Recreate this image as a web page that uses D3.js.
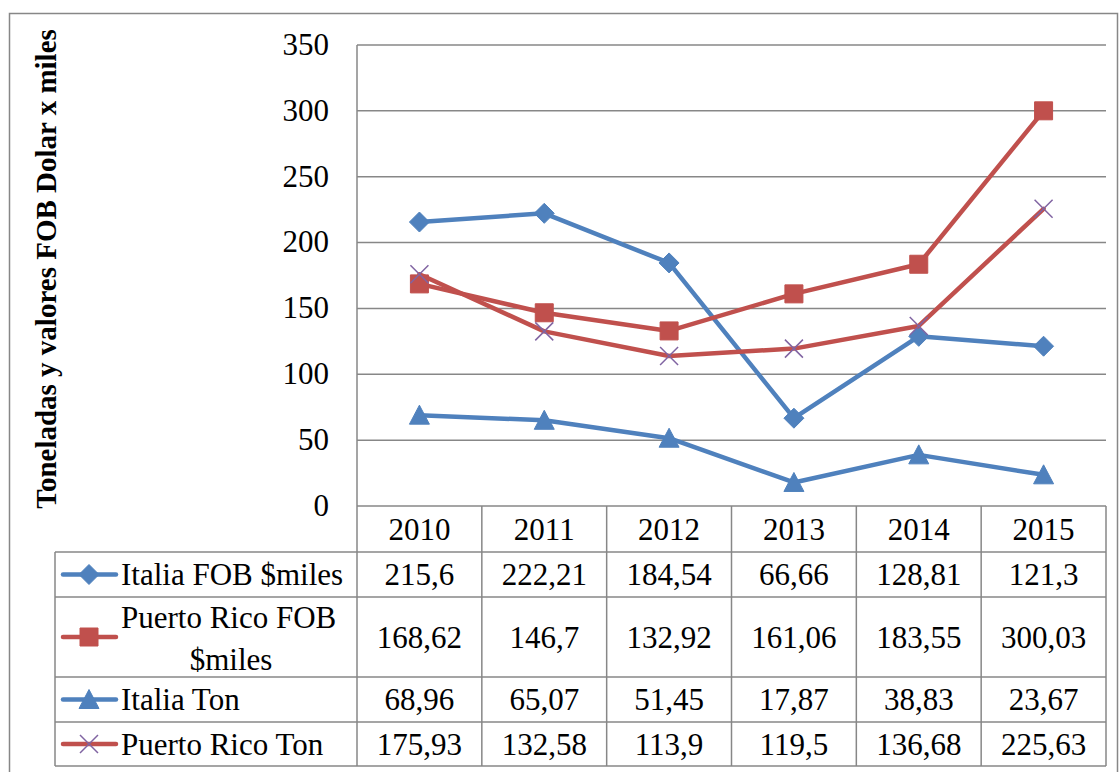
<!DOCTYPE html>
<html>
<head>
    <meta charset="utf-8" />
    <script src="https://d3js.org/d3.v7.min.js"></script>
</head>
<body style="margin:0">
<script>
    // datos
    var years = ["2010", "2011", "2012", "2013", "2014", "2015"];
    var italiaFob = [215.6, 222.21, 184.54, 66.66, 128.81, 121.3];
    var prFob = [168.62, 146.7, 132.92, 161.06, 183.55, 300.03];
    var italiaTon = [68.96, 65.07, 51.45, 17.87, 38.83, 23.67];
    var prTon = [175.93, 132.58, 113.9, 119.5, 136.68, 225.63];
    var labelsFob = ["215,6", "222,21", "184,54", "66,66", "128,81", "121,3"];
    var labelsPrFob = ["168,62", "146,7", "132,92", "161,06", "183,55", "300,03"];
    var labelsTon = ["68,96", "65,07", "51,45", "17,87", "38,83", "23,67"];
    var labelsPrTon = ["175,93", "132,58", "113,9", "119,5", "136,68", "225,63"];
    var yTicks = [0, 50, 100, 150, 200, 250, 300, 350];

    var series = [
        { name: ["Italia FOB $miles"], values: italiaFob, labels: labelsFob, color: "#4f81bd", marker: "diamond" },
        { name: ["Puerto Rico FOB", "$miles"], values: prFob, labels: labelsPrFob, color: "#c0504d", marker: "square" },
        { name: ["Italia Ton"], values: italiaTon, labels: labelsTon, color: "#4f81bd", marker: "triangle" },
        { name: ["Puerto Rico Ton"], values: prTon, labels: labelsPrTon, color: "#c0504d", marker: "x" }
    ];

    var width = 1120, height = 772;
    var gridColor = "#878787";
    var fontFamily = "'Liberation Serif'";
    var fontSize = "31px";

    var svg = d3.select("body").append("svg")
        .attr("width", width)
        .attr("height", height);

    function addText(parent) {
        return parent.append("text")
            .style("font-family", fontFamily)
            .style("font-size", fontSize);
    }

    // borde del gráfico
    svg.append("rect")
        .attr("x", 9.5).attr("y", 13.5)
        .attr("width", 1108).attr("height", 780)
        .attr("fill", "none").attr("stroke", gridColor).attr("stroke-width", 1.5);

    var plotLeft = 357, plotRight = 1106, plotTop = 45, plotBottom = 506;

    var x = d3.scaleBand().domain(years).range([plotLeft, plotRight]);
    var y = d3.scaleLinear().domain([0, 350]).range([plotBottom, plotTop]);

    // lineas de cuadricula
    svg.append("g")
        .selectAll("line")
        .data(yTicks.filter(function (d) { return d > 0; }))
        .join("line")
        .attr("x1", plotLeft).attr("x2", plotRight)
        .attr("y1", function (d) { return y(d); })
        .attr("y2", function (d) { return y(d); })
        .attr("stroke", gridColor).attr("stroke-width", 1.5);

    // eje y: solo la linea, las etiquetas van como texto normal
    svg.append("line")
        .attr("x1", plotLeft).attr("x2", plotLeft)
        .attr("y1", plotTop).attr("y2", plotBottom)
        .attr("stroke", gridColor).attr("stroke-width", 1.5);
    var ticks = svg.append("g");
    yTicks.forEach(function (t) {
        addText(ticks)
            .attr("x", plotLeft - 28)
            .attr("y", y(t))
            .attr("dy", "0.32em")
            .attr("text-anchor", "end")
            .text(t);
    });

    // titulo eje y
    addText(svg)
        .attr("transform", "translate(56,269) rotate(-90)")
        .attr("text-anchor", "middle")
        .style("font-size", "29px")
        .style("font-weight", "bold")
        .text("Toneladas y valores FOB Dolar x miles");

    // tabla de datos
    var tableLeft = 55;
    var headerBottom = 552;
    var rowBottoms = [597, 677, 722, 766];
    var rowTops = [headerBottom].concat(rowBottoms.slice(0, 3));

    var table = svg.append("g").attr("stroke", gridColor).attr("stroke-width", 1.5);
    table.append("line").attr("x1", plotLeft).attr("x2", plotRight).attr("y1", plotBottom).attr("y2", plotBottom);
    table.append("line").attr("x1", tableLeft).attr("x2", plotRight).attr("y1", headerBottom).attr("y2", headerBottom);
    rowBottoms.forEach(function (b) {
        table.append("line").attr("x1", tableLeft).attr("x2", plotRight).attr("y1", b).attr("y2", b);
    });
    table.append("line").attr("x1", tableLeft).attr("x2", tableLeft).attr("y1", headerBottom).attr("y2", 766);
    years.concat(["end"]).forEach(function (yr, i) {
        var xx = plotLeft + i * x.bandwidth();
        table.append("line").attr("x1", xx).attr("x2", xx).attr("y1", plotBottom).attr("y2", 766);
    });

    var header = svg.append("g");
    years.forEach(function (yr) {
        addText(header)
            .attr("x", x(yr) + x.bandwidth() / 2)
            .attr("y", (plotBottom + headerBottom) / 2)
            .attr("dy", "0.35em")
            .attr("text-anchor", "middle")
            .text(yr);
    });

    function markerPath(type, s) {
        var p = d3.path(), h = s / 2;
        if (type === "diamond") {
            p.moveTo(0, -h - 1); p.lineTo(h + 1, 0); p.lineTo(0, h + 1); p.lineTo(-h - 1, 0); p.closePath();
        } else if (type === "square") {
            p.rect(-h, -h, s, s);
        } else if (type === "triangle") {
            p.moveTo(0, -h - 1); p.lineTo(h + 1, h); p.lineTo(-h - 1, h); p.closePath();
        } else {
            p.moveTo(-h, -h); p.lineTo(h, h); p.moveTo(h, -h); p.lineTo(-h, h);
        }
        return p.toString();
    }

    function drawMarker(g, type, color, cx, cy) {
        var m = g.append("path")
            .attr("d", markerPath(type, 18))
            .attr("transform", "translate(" + cx + "," + cy + ")");
        if (type === "x") {
            m.attr("fill", "none").attr("stroke", "#8064a2").attr("stroke-width", 1.5);
        } else {
            m.attr("fill", color).attr("stroke", color).attr("stroke-width", 1);
        }
    }

    var line = d3.line()
        .x(function (d, i) { return x(years[i]) + x.bandwidth() / 2; })
        .y(function (d) { return y(d); });

    series.forEach(function (s, si) {
        var g = svg.append("g");
        g.append("path")
            .datum(s.values)
            .attr("d", line)
            .attr("fill", "none")
            .attr("stroke", s.color)
            .attr("stroke-width", 4.5)
            .attr("stroke-linejoin", "round")
            .attr("stroke-linecap", "round");
        s.values.forEach(function (v, i) {
            drawMarker(g, s.marker, s.color, x(years[i]) + x.bandwidth() / 2, y(v));
        });

        // fila de la tabla
        var top = rowTops[si], bottom = rowBottoms[si], mid = (top + bottom) / 2;
        var key = svg.append("g");
        key.append("line")
            .attr("x1", 63).attr("x2", 116).attr("y1", mid).attr("y2", mid)
            .attr("stroke", s.color).attr("stroke-width", 4.5).attr("stroke-linecap", "round");
        drawMarker(key, s.marker, s.color, 89, mid);

        if (s.name.length === 1) {
            addText(svg).attr("x", 121).attr("y", mid).attr("dy", "0.35em").text(s.name[0]);
        } else {
            addText(svg).attr("x", 121).attr("y", mid - 20).attr("dy", "0.35em").text(s.name[0]);
            addText(svg).attr("x", 231).attr("y", mid + 22).attr("dy", "0.35em")
                .attr("text-anchor", "middle").text(s.name[1]);
        }

        var cells = svg.append("g");
        s.labels.forEach(function (lab, i) {
            addText(cells)
                .attr("x", x(years[i]) + x.bandwidth() / 2)
                .attr("y", mid)
                .attr("dy", "0.35em")
                .attr("text-anchor", "middle")
                .text(lab);
        });
    });
</script>
</body>
</html>
